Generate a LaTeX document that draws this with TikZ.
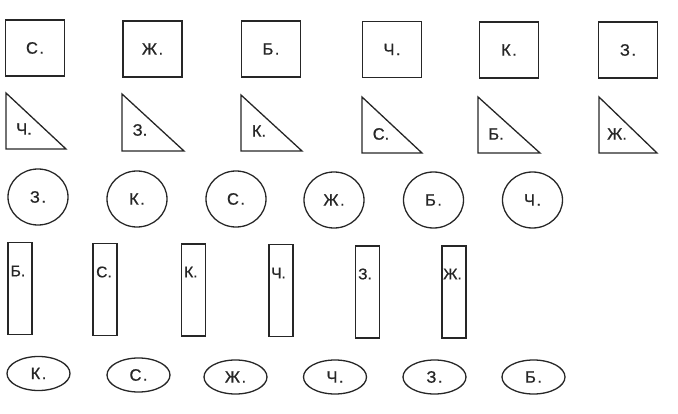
\documentclass[tikz,border=0pt]{standalone}
\usepackage{fontspec}
\setmainfont{Liberation Sans}
\newfontfamily\lfont[FakeBold=0.8]{Liberation Sans}
\usetikzlibrary{shapes.geometric}
\newcommand{\dt}{\kern1.5pt.}
\tikzset{
  ln/.style={draw=black!85, line width=1.3pt},
  lbl/.style={font=\lfont\fontsize{16.5}{16.5}\selectfont, text=black!85, inner sep=0pt},
  sq/.style={ln, lbl, rectangle, minimum width=59pt, minimum height=56pt},
  circ/.style={ln, lbl, ellipse, minimum width=60pt, minimum height=56pt},
  oval/.style={ln, lbl, ellipse, minimum width=63pt, minimum height=34pt},
  bar/.style={ln, rectangle, minimum width=24pt, minimum height=92pt, inner sep=0pt},
  blbl/.style={lbl, anchor=west, font=\lfont\fontsize{15.5}{15.5}\selectfont},
}
\begin{document}
\begin{tikzpicture}[x=1pt,y=-1pt]
\useasboundingbox (0,0) rectangle (678,414);
% squares
\node[sq] (s1) at (35,48) {С\dt};
\node[sq] (s2) at (152.5,49) {Ж\dt};
\node[sq] (s3) at (271,49) {Б\dt};
\node[sq] (s4) at (392,49.5) {Ч\dt};
\node[sq] (s5) at (509,50) {К\dt};
\node[sq] (s6) at (628,50) {З\dt};
% triangles
\draw[ln] (6,93) -- (6,149) -- (66,149) -- cycle;
\node[lbl] (t1) at (24,129) {Ч.};
\draw[ln] (122,94) -- (122,151) -- (184,151) -- cycle;
\node[lbl] (t2) at (140,130) {З.};
\draw[ln] (241,95) -- (241,151) -- (302,151) -- cycle;
\node[lbl] (t3) at (259,131) {К.};
\draw[ln] (362,97) -- (362,153) -- (422,153) -- cycle;
\node[lbl] (t4) at (381,134) {С.};
\draw[ln] (478,97) -- (478,153) -- (540,153) -- cycle;
\node[lbl] (t5) at (496,134) {Б.};
\draw[ln] (599,97) -- (599,153) -- (657,153) -- cycle;
\node[lbl] (t6) at (617,134) {Ж.};
% circles
\node[circ] (c1) at (38,197) {З\dt};
\node[circ] (c2) at (137,199) {К\dt};
\node[circ] (c3) at (236,199) {С\dt};
\node[circ] (c4) at (334,200) {Ж\dt};
\node[circ] (c5) at (433.5,200) {Б\dt};
\node[circ] (c6) at (532.5,200) {Ч\dt};
% bars
\node[bar] (b1) at (20,288.5) {};
\node[blbl] (bl1) at (10.5,271) {Б.};
\node[bar] (b2) at (105,289.5) {};
\node[blbl] (bl2) at (96,272) {С.};
\node[bar] (b3) at (193.5,290) {};
\node[blbl] (bl3) at (184,272) {К.};
\node[bar] (b4) at (281,290.5) {};
\node[blbl] (bl4) at (271,273) {Ч.};
\node[bar] (b5) at (367.5,292) {};
\node[blbl] (bl5) at (358,274) {З.};
\node[bar] (b6) at (454,292) {};
\node[blbl] (bl6) at (443,274) {Ж.};
% ovals
\node[oval] (o1) at (38.5,373.5) {К\dt};
\node[oval] (o2) at (138.5,375) {С\dt};
\node[oval] (o3) at (235.5,377) {Ж\dt};
\node[oval] (o4) at (335,377) {Ч\dt};
\node[oval] (o5) at (434.5,377) {З\dt};
\node[oval] (o6) at (533.5,377) {Б\dt};
\end{tikzpicture}
\end{document}
